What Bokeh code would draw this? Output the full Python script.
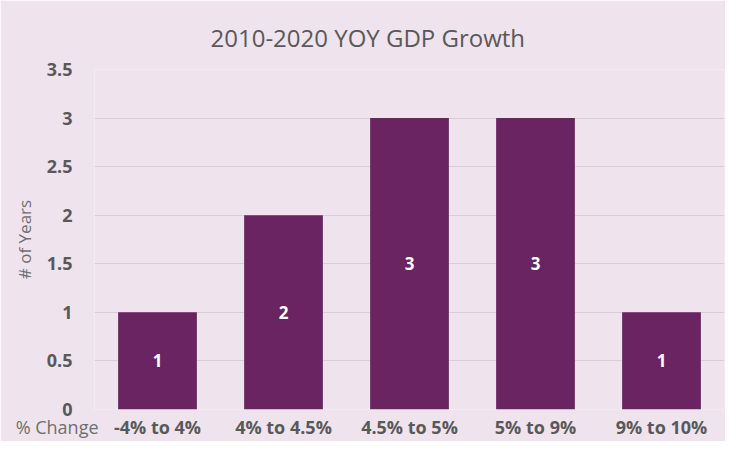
from bokeh.plotting import figure
from bokeh.models import ColumnDataSource, FactorRange, Range1d, FixedTicker, LabelSet
from bokeh.embed import file_html
from bokeh.resources import INLINE
from bokeh.core.properties import value

categories = ["-4% to 4%", "4% to 4.5%", "4.5% to 5%", "5% to 9%", "9% to 10%"]
years = [1, 2, 3, 3, 1]
y_ticks = [0, 0.5, 1, 1.5, 2, 2.5, 3, 3.5]
y_tick_labels = ["0", "0.5", "1", "1.5", "2", "2.5", "3", "3.5"]
x_axis_title = "% Change"
y_axis_title = "# of Years"
chart_title = "2010-2020 YOY GDP Growth"

BG = "#EFE4EE"
BAR = "#6A2461"
TXT = "#595959"
FONT = "Open Sans"

src = ColumnDataSource(dict(cat=categories, val=years,
                            mid=[v / 2 for v in years],
                            lbl=[str(v) for v in years]))

p = figure(width=725, height=441, output_backend="svg", toolbar_location=None,
           x_range=FactorRange(*categories, range_padding=0),
           y_range=Range1d(0, 3.5),
           title=chart_title,
           min_border_left=94, min_border_right=1, min_border_top=69, min_border_bottom=31)

p.background_fill_color = BG
p.border_fill_color = BG
p.outline_line_color = None

p.title.align = "left"
p.title.offset = 116
p.title.text_font = FONT
p.title.text_font_size = "24px"
p.title.text_font_style = "normal"
p.title.text_color = TXT
p.title.standoff = 31

p.vbar(x="cat", top="val", width=0.625, source=src, fill_color=BAR, line_color=None)

p.add_layout(LabelSet(x="cat", y="mid", text="lbl", source=src, text_color="white",
                      text_font=value(FONT), text_font_size="17px", text_font_style="bold",
                      text_align="center", text_baseline="middle"))

p.xgrid.grid_line_color = None
p.ygrid.grid_line_color = "#D8CED7"
p.ygrid.grid_line_width = 1
p.yaxis.ticker = FixedTicker(ticks=y_ticks)
p.yaxis.major_label_overrides = {t: l for t, l in zip(y_ticks, y_tick_labels)}

for ax in (p.xaxis[0], p.yaxis[0]):
    ax.axis_line_color = None
    ax.major_tick_line_color = None
    ax.minor_tick_line_color = None
    ax.major_tick_out = 0
    ax.major_tick_in = 0
    ax.minor_tick_out = 0
    ax.minor_tick_in = 0
    ax.major_label_text_font = FONT
    ax.major_label_text_font_size = "18px"
    ax.major_label_text_font_style = "bold"
    ax.major_label_text_color = TXT

p.xaxis.major_label_standoff = 5
p.yaxis.major_label_standoff = 22
p.yaxis.axis_label = y_axis_title
p.yaxis.axis_label_text_font = FONT
p.yaxis.axis_label_text_font_size = "17px"
p.yaxis.axis_label_text_font_style = "normal"
p.yaxis.axis_label_text_color = "#6F6F6F"
p.yaxis.axis_label_standoff = 8

# axis title sits at the left end of the tick-label row, as in the original
p.xaxis.axis_label = x_axis_title + "\u00a0" * 16
p.xaxis.axis_label_align = "start"
p.xaxis.axis_label_standoff = -27
p.xaxis.axis_label_text_font = FONT
p.xaxis.axis_label_text_font_size = "18px"
p.xaxis.axis_label_text_font_style = "normal"
p.xaxis.axis_label_text_color = "#6F6F6F"

open("out.html", "w").write(file_html(p, INLINE))
